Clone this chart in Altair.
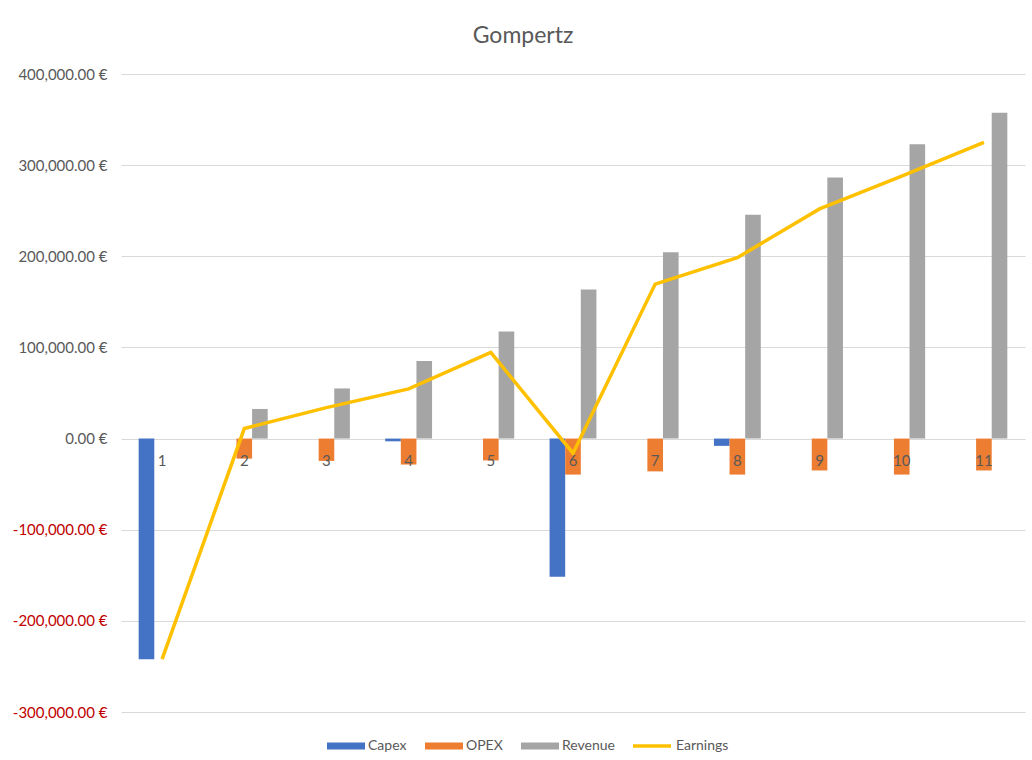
import altair as alt
import pandas as pd

FONT = "Lato"
TEXT_GREY = "#595959"

# Periods on the category axis
periods = [str(i) for i in range(1, 12)]

# Cash-flow components per period (EUR)
capex = [-242000, 0, 0, -3000, 0, -151500, 0, -8000, 0, 0, 0]
opex = [0, -22000, -24500, -28500, -24000, -39500, -36000, -39500, -35000, -39500, -35000]
revenue = [0, 32500, 55000, 85000, 117500, 163500, 204500, 245500, 286500, 323000, 357500]
earnings = [-242000, 11000, 34000, 54500, 94500, -16000, 169500, 198500, 252000, 288000, 325000]

bar_series = ["Capex", "OPEX", "Revenue"]
bar_colors = ["#4472C4", "#ED7D31", "#A5A5A5"]
line_color = "#FFC000"

y_ticks = [-300000, -200000, -100000, 0, 100000, 200000, 300000, 400000]

bar_rows = []
for name, vals in zip(bar_series, (capex, opex, revenue)):
    for p, v in zip(periods, vals):
        bar_rows.append({"period": p, "series": name, "value": v})
bars_df = pd.DataFrame(bar_rows)
line_df = pd.DataFrame({"period": periods, "series": "Earnings", "value": earnings})
label_df = pd.DataFrame({"period": periods})

x_enc = alt.X(
    "period:N",
    sort=periods,
    scale=alt.Scale(paddingInner=0.43, paddingOuter=0.215),
    axis=None,
)
y_scale = alt.Scale(domain=[-300000, 400000], nice=False)
y_axis = alt.Axis(
    values=y_ticks,
    labelExpr="(datum.value < 0 ? '-' : '') + format(abs(datum.value), ',.2f') + ' €'",
    labelColor={"condition": {"test": "datum.value < 0", "value": "#C00000"}, "value": TEXT_GREY},
    labelFont=FONT,
    labelFontSize=15,
    labelPadding=14,
    title=None,
    domain=False,
    ticks=False,
    grid=True,
    gridColor="#D9D9D9",
    gridWidth=1,
    minExtent=116,
    maxExtent=116,
)

# Legends sit side by side in one row under the plot
legend_common = dict(
    orient="none",
    direction="horizontal",
    title=None,
    labelFont=FONT,
    labelFontSize=14,
    labelColor=TEXT_GREY,
    labelOffset=3,
    columnPadding=18,
    symbolSize=1444,
)

bars = alt.Chart(bars_df).mark_bar().encode(
    x=x_enc,
    xOffset=alt.XOffset("series:N", sort=bar_series),
    y=alt.Y("value:Q", scale=y_scale, axis=y_axis),
    fill=alt.Fill(
        "series:N",
        sort=bar_series,
        scale=alt.Scale(domain=bar_series, range=bar_colors),
        legend=alt.Legend(
            symbolType="M-1,-0.18H1V0.18H-1Z",
            symbolStrokeWidth=0,
            legendX=206,
            legendY=653,
            **legend_common,
        ),
    ),
)

line = alt.Chart(line_df).mark_line(strokeWidth=3.5).encode(
    x=x_enc,
    y=alt.Y("value:Q", scale=y_scale, axis=y_axis),
    stroke=alt.Stroke(
        "series:N",
        scale=alt.Scale(domain=["Earnings"], range=[line_color]),
        legend=alt.Legend(
            symbolType="stroke",
            symbolStrokeWidth=3.5,
            legendX=510,
            legendY=651,
            **legend_common,
        ),
    ),
)

labels = alt.Chart(label_df).mark_text(
    dy=22, fontSize=15, font=FONT, color=TEXT_GREY
).encode(
    x=x_enc,
    y=alt.Y(datum=0, scale=y_scale, axis=y_axis),
    text="period:N",
)

chart = (
    alt.layer(bars, line, labels)
    .resolve_legend(fill="independent", stroke="independent")
    .properties(
        width=904,
        height=638,
        padding={"left": 5, "top": 25, "right": 7, "bottom": 5},
        view=alt.ViewBackground(strokeWidth=0, stroke="transparent"),
        title=alt.Title(
            "Gompertz",
            font=FONT,
            fontSize=23,
            fontWeight="normal",
            color=TEXT_GREY,
            anchor="middle",
            frame="bounds",
            dx=8,
            offset=19,
        ),
    )
    .configure_view(strokeWidth=0, stroke="transparent")
    .configure(background="white")
)

chart.save("out.html", embed_options={"renderer": "svg", "actions": False})
